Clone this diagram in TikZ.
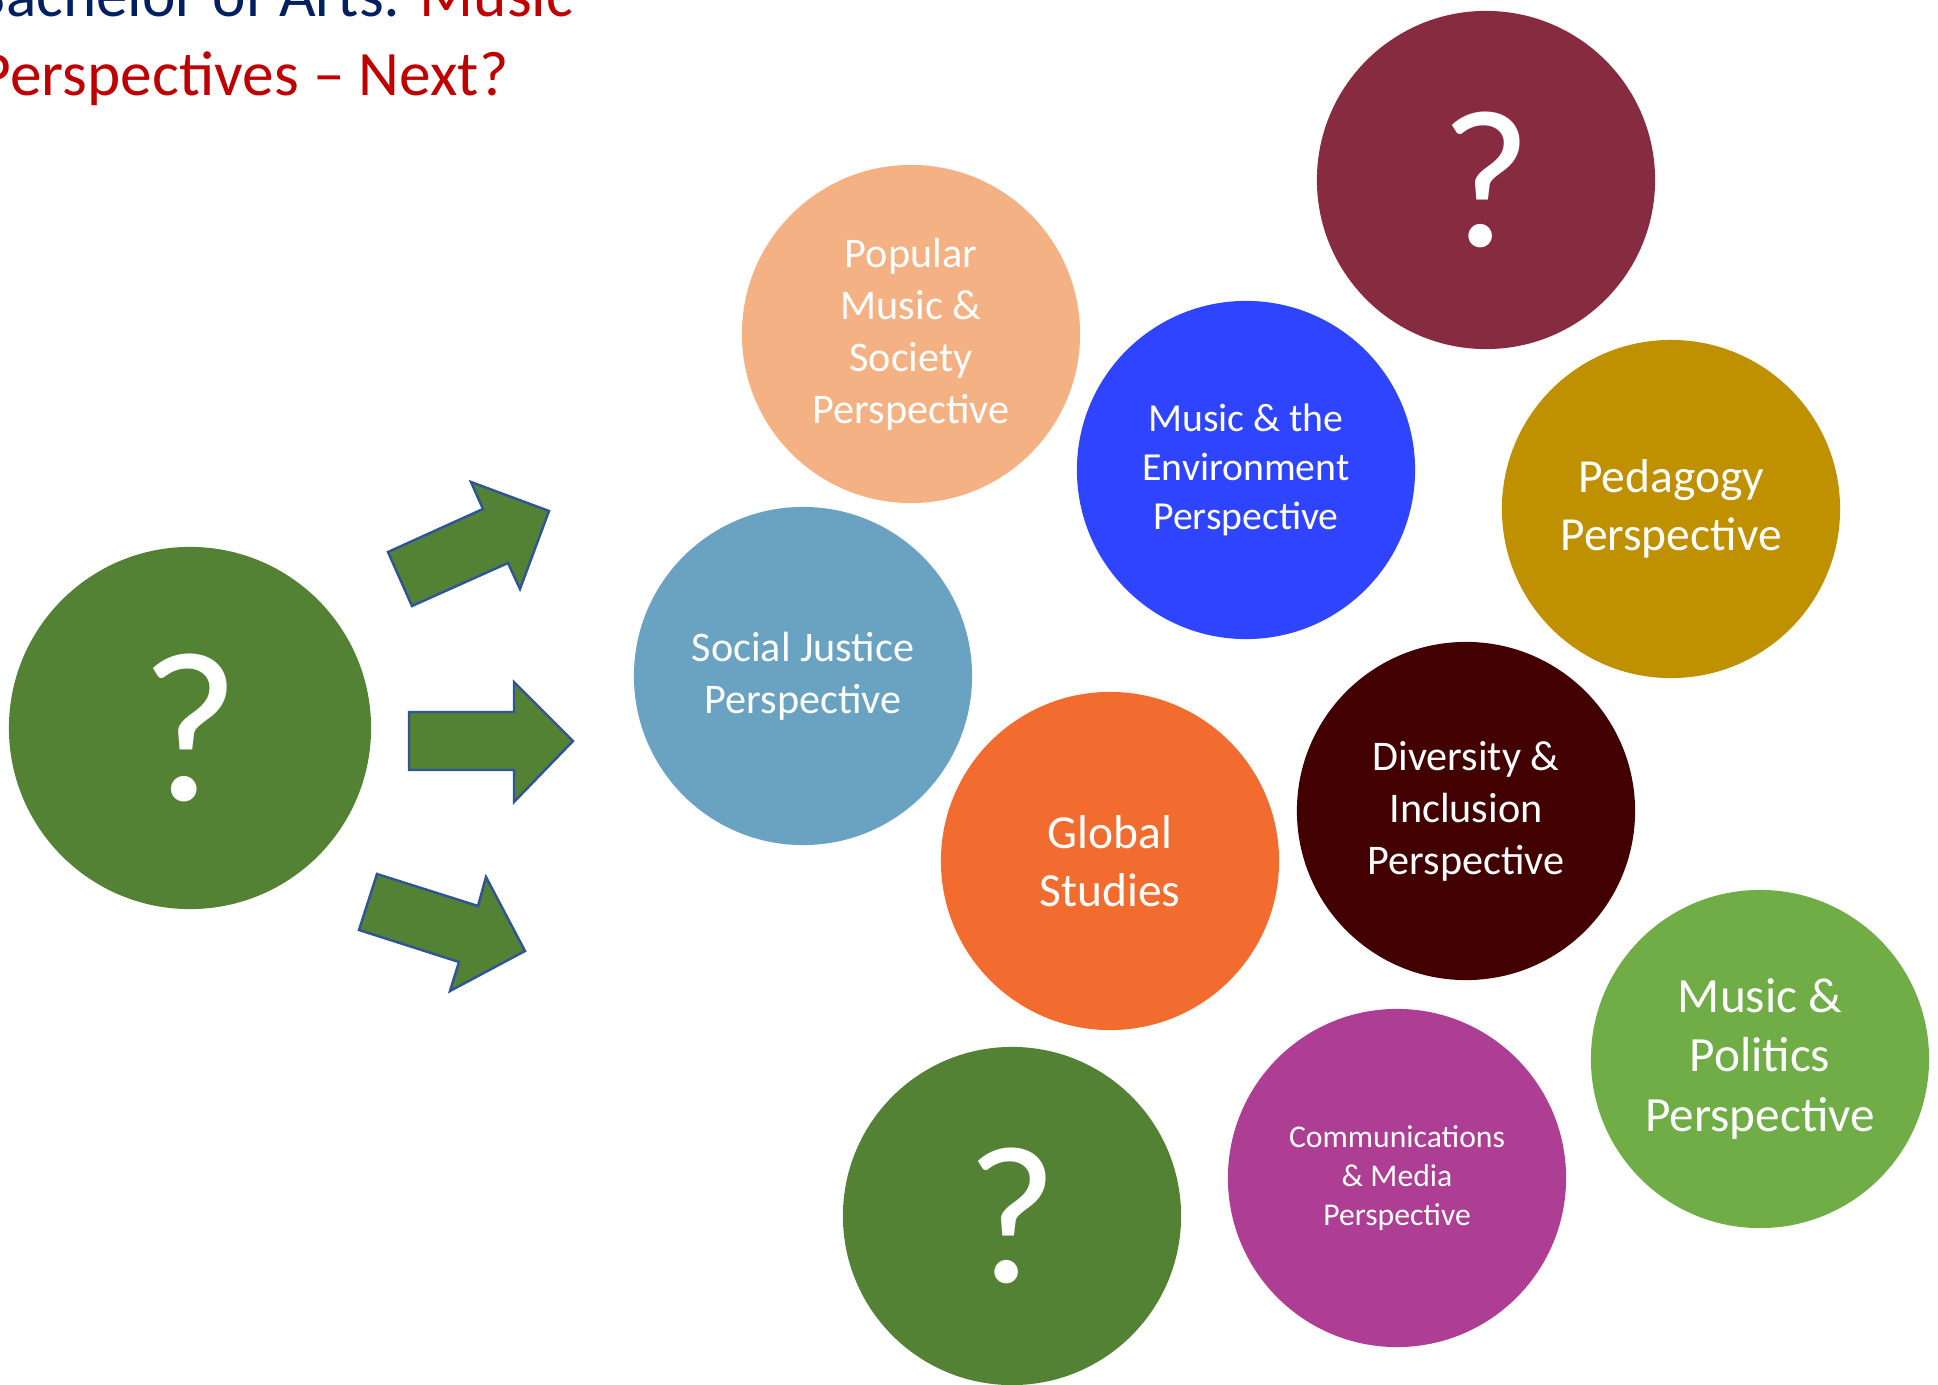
\documentclass[tikz,border=0pt]{standalone}
\usepackage{fontspec}
\setmainfont{Carlito}

\definecolor{qgreen}{HTML}{548235}
\definecolor{popular}{HTML}{F4B183}
\definecolor{justice}{HTML}{6AA2C2}
\definecolor{environ}{HTML}{2E44FF}
\definecolor{qmaroon}{HTML}{872B40}
\definecolor{pedagogy}{HTML}{BF9000}
\definecolor{globalst}{HTML}{F36C2F}
\definecolor{diversity}{HTML}{420000}
\definecolor{politics}{HTML}{70AD47}
\definecolor{commmedia}{HTML}{AE3D94}
\definecolor{arrowline}{HTML}{2F5597}
\definecolor{titleblue}{HTML}{002060}
\definecolor{titlered}{HTML}{C00000}

\tikzset{
  bubble/.style={circle,minimum size=3.38cm,inner sep=0pt,text=white,align=center,
    font=\fontsize{12}{14.8}\selectfont},
  bigger/.style={font=\fontsize{13.5}{16.4}\selectfont},
  qmark/.style={font=\fontsize{56}{60}\selectfont},
  blockarrow/.style={fill=qgreen,draw=arrowline,line width=0.7pt,line join=miter}
}

\begin{document}
\begin{tikzpicture}[x=0.01cm,y=-0.01cm]
    \useasboundingbox (0,0) rectangle (1938,1385);
    \clip (0,0) rectangle (1938,1385);
    % title
    \node[anchor=base east,inner sep=0pt,text=titleblue,font=\fontsize{18}{22}\selectfont] (title) at (574,17)
      {Bachelor of Arts: \textcolor{titlered}{Music}};
    \node[anchor=base east,inner sep=0pt,text=titlered,font=\fontsize{18}{22}\selectfont] (subtitle) at (509,96)
      {Perspectives -- Next?};
    % bubbles
    \node[bubble,fill=qgreen,minimum size=3.62cm,font=\fontsize{61}{64}\selectfont] (start) at (190,728) {?};
    \node[bubble,fill=popular] (popular) at (911,334) {Popular\\Music \&\\Society\\Perspective};
    \node[bubble,fill=justice] (justice) at (803,676) {Social Justice\\Perspective};
    \node[bubble,fill=environ,font=\fontsize{11.3}{14}\selectfont] (environ) at (1246,470) {Music \& the\\Environment\\Perspective};
    \node[bubble,fill=qmaroon,qmark] (qtop) at (1486,180) {?};
    \node[bubble,fill=pedagogy,bigger] (pedagogy) at (1671,509) {Pedagogy\\Perspective};
    \node[bubble,fill=globalst,bigger] (global) at (1110,861) {Global\\Studies};
    \node[bubble,fill=diversity] (diversity) at (1466,811) {Diversity \&\\Inclusion\\Perspective};
    \node[bubble,fill=politics,font=\fontsize{14}{16.9}\selectfont] (politics) at (1760,1059) {Music \&\\Politics\\Perspective};
    \node[bubble,fill=commmedia,font=\fontsize{9}{11.2}\selectfont] (media) at (1397,1178) {Communications\\\& Media\\Perspective};
    \node[bubble,fill=qgreen,qmark] (qbottom) at (1012,1216) {?};
    % arrows
    \draw[blockarrow] (412,606) -- (388,552) -- (483,509) -- (471,482) -- (549,511) -- (520,589) -- (508,563) -- cycle;
    \draw[blockarrow] (409,712) -- (514,712) -- (514,682) -- (573,741) -- (514,802) -- (514,770) -- (409,770) -- cycle;
    \draw[blockarrow] (377,874) -- (478,906) -- (486,877) -- (525,951) -- (450,991) -- (459,962) -- (359,930) -- cycle;
\end{tikzpicture}
\end{document}
